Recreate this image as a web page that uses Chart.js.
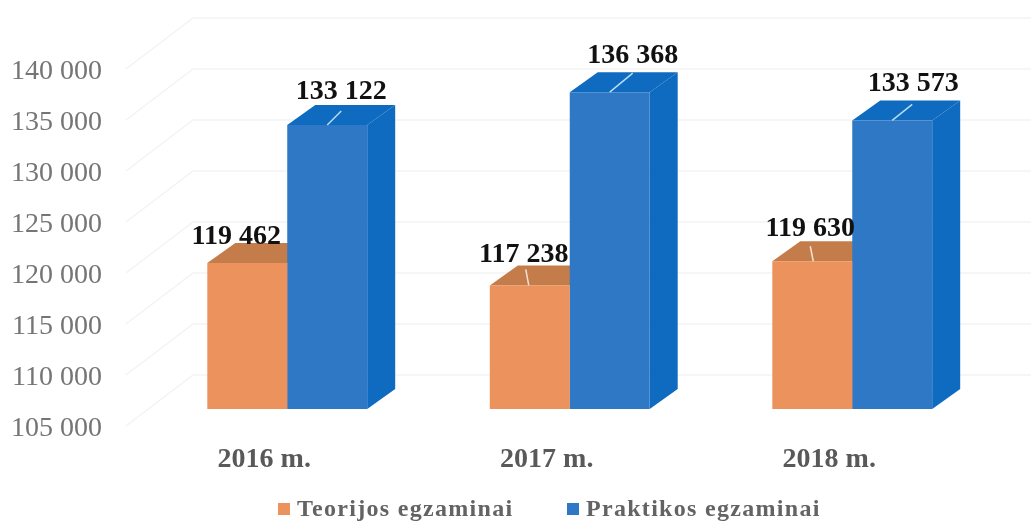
<!DOCTYPE html>
<html lang="lt">
<head>
<meta charset="utf-8">
<title>Egzaminai</title>
<script src="https://cdn.jsdelivr.net/npm/chart.js@4"></script>
<style>
    html, body { margin: 0; padding: 0; background: #fff; }
    #wrap { position: relative; width: 1031px; height: 522px; overflow: hidden; }
    #legend {
        position: absolute; top: 495px; left: 278px;
        font: bold 24px "Liberation Serif", serif;
        color: #636363; letter-spacing: 1.3px; white-space: nowrap;
    }
    #legend span { position: absolute; top: 0; line-height: 27px; }
    #legend i { position: absolute; top: 8px; width: 12px; height: 12px; }
</style>
</head>
<body>
<div id="wrap">
    <canvas id="chart"></canvas>
    <div id="legend"></div>
</div>
<script>
const categories = ['2016 m.', '2017 m.', '2018 m.'];
const teorijos = [119462, 117238, 119630];
const praktikos = [133122, 136368, 133573];
const seriesNames = ['Teorijos egzaminai', 'Praktikos egzaminai'];

// couleurs : face avant, dessus, cote
const faces = [
    { front: '#ec925c', top: '#c47c4a', side: '#c47c4a' },
    { front: '#2e78c6', top: '#0e6bbf', side: '#0e6bbf' }
];

// decalage des etiquettes par rapport au haut de la barre
const labelShift = [
    [[-11, -26], [-6, -31], [-2, -32]],
    [[14, -33], [23, -36], [21, -37]]
];
// petits traits blancs entre barre et etiquette
const leaders = [
    [null, [[-4, -16], [-1, 0]], [[-2, -15], [1, 0]]],
    [[[0, 0], [14, -14]], [[0, 0], [23, -19]], [[0, 0], [20, -16]]]
];

const DEPTH_X = 28, DEPTH_Y = 20;

function fmt(v) {
    return String(v).replace(/\B(?=(\d{3})+$)/g, ' ');
}

function poly(ctx, pts, color) {
    ctx.fillStyle = color;
    ctx.beginPath();
    pts.forEach((p, i) => i ? ctx.lineTo(p[0], p[1]) : ctx.moveTo(p[0], p[1]));
    ctx.closePath();
    ctx.fill();
}

const bars3d = {
    id: 'bars3d',
    beforeDatasetsDraw(chart) {
        const ctx = chart.ctx;
        const y = chart.scales.y;
        const left = chart.chartArea.left;
        ctx.save();
        // murs : lignes en biais puis horizontales
        ctx.strokeStyle = '#f3f3f3';
        ctx.lineWidth = 1.5;
        y.ticks.forEach(t => {
            const py = y.getPixelForValue(t.value);
            ctx.beginPath();
            ctx.moveTo(left - 20, py - 3);
            ctx.lineTo(left + 47, py - 54);
            ctx.lineTo(chart.width, py - 54);
            ctx.stroke();
        });
        // dessus et cote de chaque barre
        chart.data.datasets.forEach((ds, i) => {
            chart.getDatasetMeta(i).data.forEach(bar => {
                const l = bar.x - bar.width / 2, r = bar.x + bar.width / 2;
                poly(ctx, [[l, bar.y], [l + DEPTH_X, bar.y - DEPTH_Y], [r + DEPTH_X, bar.y - DEPTH_Y], [r, bar.y]], faces[i].top);
                poly(ctx, [[r, bar.y], [r + DEPTH_X, bar.y - DEPTH_Y], [r + DEPTH_X, bar.base - DEPTH_Y], [r, bar.base]], faces[i].side);
            });
        });
        ctx.restore();
    },
    afterDatasetsDraw(chart) {
        const ctx = chart.ctx;
        ctx.save();
        chart.data.datasets.forEach((ds, i) => {
            chart.getDatasetMeta(i).data.forEach((bar, j) => {
                const line = leaders[i][j];
                if (line) {
                    ctx.strokeStyle = i ? '#b9dcf2' : '#f3e3d6';
                    ctx.lineWidth = 1.5;
                    ctx.beginPath();
                    ctx.moveTo(bar.x + line[0][0], bar.y + line[0][1]);
                    ctx.lineTo(bar.x + line[1][0], bar.y + line[1][1]);
                    ctx.stroke();
                }
                ctx.font = 'bold 28px "Liberation Serif", serif';
                ctx.fillStyle = '#111';
                ctx.textAlign = 'center';
                ctx.textBaseline = 'middle';
                ctx.fillText(fmt(ds.data[j]), bar.x + labelShift[i][j][0], bar.y + labelShift[i][j][1]);
            });
        });
        ctx.restore();
    }
};

new Chart(document.getElementById('chart'), {
    type: 'bar',
    data: {
        labels: categories,
        datasets: [
            { label: seriesNames[0], data: teorijos, backgroundColor: faces[0].front, yAxisID: 'yBars', base: 105000 },
            { label: seriesNames[1], data: praktikos, backgroundColor: faces[1].front, yAxisID: 'yBars', base: 105000 }
        ]
    },
    options: {
        responsive: true,
        maintainAspectRatio: false,
        animation: false,
        layout: { padding: { top: 72, right: 37.5, left: 0, bottom: 0 } },
        plugins: { legend: { display: false }, tooltip: { enabled: false } },
        datasets: { bar: { categoryPercentage: 0.566, barPercentage: 1 } },
        scales: {
            x: {
                grid: { display: false, drawTicks: false },
                border: { display: false },
                afterFit: s => { s.height = 93; },
                ticks: {
                    padding: 14,
                    labelOffset: -23,
                    color: '#595959',
                    font: { family: '"Liberation Serif", serif', size: 28, weight: 'bold' }
                }
            },
            y: {
                min: 105000,
                max: 140000,
                grid: { display: false, drawTicks: false },
                border: { display: false },
                afterFit: s => { s.width = 146; },
                ticks: {
                    stepSize: 5000,
                    padding: 44,
                    color: '#757575',
                    font: { family: '"Liberation Serif", serif', size: 28 },
                    callback: v => fmt(v)
                }
            },
            // barres posees en avant du mur, un peu plus haut que les graduations
            yBars: { display: false, min: 103020, max: 138367 }
        }
    },
    plugins: [bars3d]
});

// legende HTML
const legend = document.getElementById('legend');
[0, 289].forEach((x, i) => {
    const box = document.createElement('i');
    box.style.left = x + 'px';
    box.style.background = faces[i].front;
    legend.appendChild(box);
    const txt = document.createElement('span');
    txt.style.left = (x + 19) + 'px';
    txt.textContent = seriesNames[i];
    legend.appendChild(txt);
});
</script>
</body>
</html>
